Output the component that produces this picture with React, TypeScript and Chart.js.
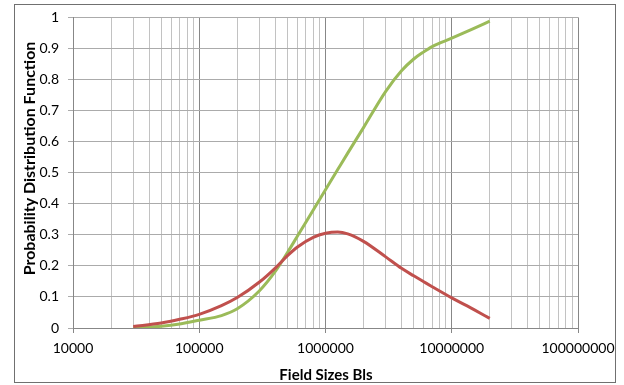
import React, { useEffect, useRef } from "react";
import { Chart, registerables } from "chart.js";

Chart.register(...registerables);

const fieldSizes = [30000, 50000, 70000, 100000, 150000, 200000, 300000, 400000, 500000, 600000, 800000, 1000000, 1250000, 1500000, 2000000, 3000000, 4000000, 5000000, 6000000, 7000000, 10000000, 15000000, 20000000];
const pdfValues = [0.005, 0.016, 0.028, 0.044, 0.072, 0.098, 0.148, 0.193, 0.233, 0.261, 0.292, 0.305, 0.309, 0.303, 0.279, 0.229, 0.192, 0.168, 0.149, 0.133, 0.097, 0.059, 0.031];
const cdfValues = [0.001, 0.006, 0.013, 0.025, 0.04, 0.062, 0.12, 0.182, 0.243, 0.296, 0.38, 0.445, 0.51, 0.563, 0.645, 0.762, 0.828, 0.866, 0.889, 0.906, 0.933, 0.965, 0.988];

const majorTicks = [10000, 100000, 1000000, 10000000, 100000000];
const minorMultipliers = [2, 3, 4, 5, 6, 7, 8, 9];

const xTitle = "Field Sizes Bls";
const yTitle = "Probability Distribution Function";

const isMajor = (v: number) => majorTicks.some((m) => Math.abs(m - v) < 1e-6 * m);

const xTickValues: number[] = [];
majorTicks.forEach((m, i) => {
  xTickValues.push(m);
  if (i < majorTicks.length - 1) minorMultipliers.forEach((k) => xTickValues.push(m * k));
});

export default function App() {
  const ref = useRef<HTMLCanvasElement | null>(null);
  useEffect(() => {
    if (!ref.current) return;
    const framePlugin = {
      id: "frame",
      afterDraw(chart: any) {
        const ctx = chart.ctx;
        ctx.save();
        ctx.strokeStyle = "#707070";
        ctx.lineWidth = 1;
        ctx.strokeRect(14.5, 4.5, 601, 378);
        ctx.fillStyle = "#000";
        ctx.textAlign = "center";
        ctx.textBaseline = "middle";
        ctx.font = "bold 15px Lato";
        ctx.fillText(xTitle, 326, 375);
        ctx.font = "bold 16px Lato";
        ctx.translate(30, 158.5);
        ctx.rotate(-Math.PI / 2);
        ctx.fillText(yTitle, 0, 0);
        ctx.restore();
      },
    };
    const chart = new Chart(ref.current, {
      type: "line",
      data: {
        datasets: [
          {
            label: "PDF",
            data: fieldSizes.map((x, i) => ({ x, y: pdfValues[i] })),
            borderColor: "#C0504D",
            borderWidth: 3,
            pointRadius: 0,
            cubicInterpolationMode: "monotone",
            fill: false,
          },
          {
            label: "CDF",
            data: fieldSizes.map((x, i) => ({ x, y: cdfValues[i] })),
            borderColor: "#9BBB59",
            borderWidth: 3,
            pointRadius: 0,
            cubicInterpolationMode: "monotone",
            fill: false,
          },
        ],
      },
      options: {
        responsive: false,
        animation: false,
        layout: { padding: { left: 0, right: 46, top: 13, bottom: 0 } },
        plugins: { legend: { display: false }, tooltip: { enabled: false } },
        scales: {
          x: {
            type: "logarithmic",
            min: 10000,
            max: 100000000,
            afterBuildTicks: (scale: any) => {
              scale.ticks = xTickValues.map((v) => ({ value: v, major: isMajor(v) }));
            },
            afterFit: (scale: any) => {
              scale.height = 57;
            },
            grid: {
              color: (c: any) => (c.tick && isMajor(c.tick.value) ? "#878787" : "#c2c2c2"),
              tickColor: (c: any) => (c.tick && isMajor(c.tick.value) ? "#878787" : "rgba(0,0,0,0)"),
              tickLength: 5,
              lineWidth: 1,
            },
            border: { color: "#878787" },
            ticks: {
              autoSkip: false,
              maxRotation: 0,
              minRotation: 0,
              padding: 7,
              color: "#000",
              font: { family: "Lato", size: 14 },
              callback: (v: any) => (isMajor(Number(v)) ? String(Math.round(Number(v))) : ""),
            },
          },
          y: {
            type: "linear",
            min: 0,
            max: 1,
            afterFit: (scale: any) => {
              scale.width = 73;
            },
            grid: { color: "#ababab", tickColor: "#ababab", tickLength: 5, lineWidth: 1 },
            border: { color: "#878787" },
            ticks: {
              stepSize: 0.1,
              padding: 9,
              color: "#000",
              font: { family: "Lato", size: 14 },
              callback: (v: any) => String(Math.round(Number(v) * 10) / 10),
            },
          },
        },
      },
      plugins: [framePlugin],
    } as any);
    return () => chart.destroy();
  }, []);
  return (
    <div style={{ position: "fixed", left: 0, top: 0, width: 624, height: 385, background: "#fff" }}>
      <canvas ref={ref} width={624} height={385} style={{ display: "block" }} />
    </div>
  );
}
